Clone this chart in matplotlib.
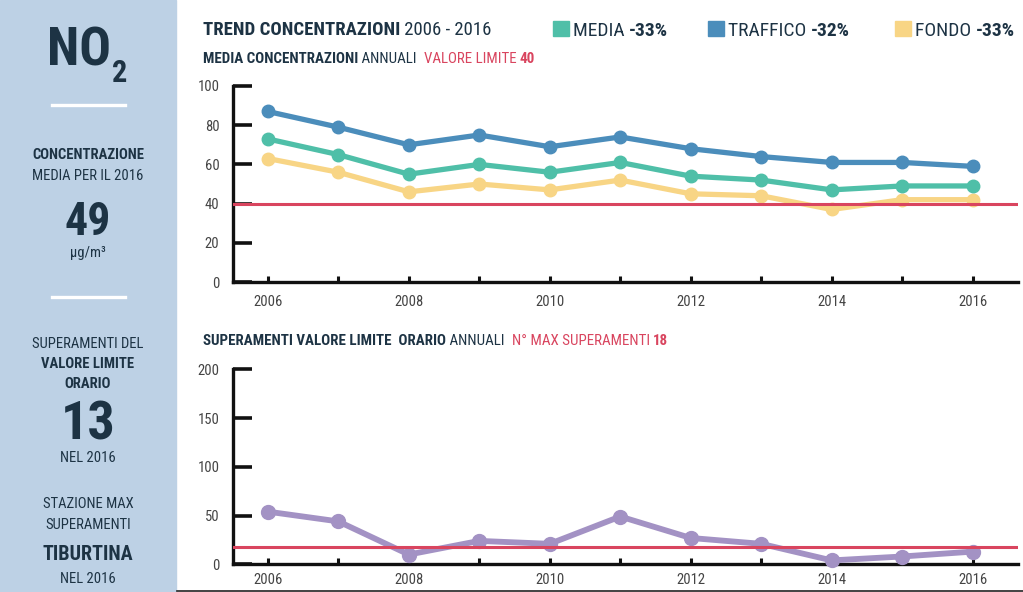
import matplotlib
matplotlib.use("Agg")
import matplotlib.pyplot as plt
from matplotlib import font_manager
from matplotlib.patches import Rectangle
from matplotlib.lines import Line2D

# data
years = list(range(2006, 2017))
media = [73, 65, 55, 60, 56, 61, 54, 52, 47, 49, 49]
traffico = [87, 79, 70, 75, 69, 74, 68, 64, 61, 61, 59]
fondo = [63, 56, 46, 50, 47, 52, 45, 44, 37, 42, 42]
superamenti = [54, 44, 10, 24, 21, 49, 27, 21, 4, 8, 13]
valore_limite = 40
max_superamenti = 18
legend_labels = ["MEDIA", "TRAFFICO", "FONDO"]
legend_changes = ["-33%", "-32%", "-33%"]

W, H = 1023, 592
PANEL = "#bdd1e5"
DARK = "#1d3344"
RED = "#d9455f"
C_MEDIA = "#4fbfa8"
C_TRAFFICO = "#4b8dbb"
C_FONDO = "#f8d585"
C_SUPER = "#a392c4"


def pick_font(names):
    for n in names:
        try:
            font_manager.findfont(n, fallback_to_default=False)
            return n
        except ValueError:
            continue
    return "DejaVu Sans"


FONT = pick_font(["Liberation Sans Narrow", "Roboto Condensed", "Roboto"])
plt.rcParams["font.family"] = [FONT, "DejaVu Sans"]

fig = plt.figure(figsize=(W / 100, H / 100), dpi=100)
renderer = fig.canvas.get_renderer()


def px(x, y):
    return x / W, 1 - y / H


def text_run(x, y, parts, size):
    """Draw text pieces one after another on a common baseline (pixel coords)."""
    for s, weight, color in parts:
        t = fig.text(*px(x, y), s, fontsize=size, fontweight=weight,
                     color=color, ha="left", va="baseline")
        x = t.get_window_extent(renderer).x1
    return x


# left panel
fig.add_artist(Rectangle((0, 0), 176 / W, 1, transform=fig.transFigure,
                         color=PANEL, zorder=0))
for ysep in (105, 297):
    fig.add_artist(Line2D([52 / W, 125 / W], [1 - ysep / H] * 2,
                          color="white", lw=2.4))
fig.add_artist(Line2D([177 / W, 1], [1 - 590.5 / H] * 2, color="#222", lw=1.2))

fig.text(*px(111, 66), "NO", fontsize=38, fontweight="bold", color=DARK,
         ha="right", va="baseline")
fig.text(*px(112, 82), "2", fontsize=22, fontweight="bold", color=DARK,
         ha="left", va="baseline")

cx = 88
panel_texts = [
    (159, "CONCENTRAZIONE", "bold", 10.5),
    (180, "MEDIA PER IL 2016", "normal", 10.5),
    (235, "49", "bold", 33),
    (257, "µg/m³", "normal", 10.5),
    (348, "SUPERAMENTI DEL", "normal", 10.5),
    (368, "VALORE LIMITE", "bold", 10.5),
    (388, "ORARIO", "bold", 10.5),
    (440, "13", "bold", 39),
    (462, "NEL 2016", "normal", 10.5),
    (508, "STAZIONE MAX", "normal", 10.5),
    (529, "SUPERAMENTI", "normal", 10.5),
    (560, "TIBURTINA", "bold", 14.5),
    (583, "NEL 2016", "normal", 10.5),
]
for y, s, weight, size in panel_texts:
    fig.text(*px(cx, y), s, fontsize=size, fontweight=weight, color=DARK,
             ha="center", va="baseline")

# headers
text_run(203, 35, [("TREND CONCENTRAZIONI", "bold", DARK),
                   (" 2006 - 2016", "normal", DARK)], 13.5)
text_run(203, 63, [("MEDIA CONCENTRAZIONI", "bold", DARK),
                   (" ANNUALI  ", "normal", DARK),
                   ("VALORE LIMITE ", "normal", RED),
                   (str(valore_limite), "bold", RED)], 10.8)
text_run(203, 345, [("SUPERAMENTI VALORE LIMITE  ORARIO", "bold", DARK),
                    (" ANNUALI  ", "normal", DARK),
                    ("N° MAX SUPERAMENTI ", "normal", RED),
                    (str(max_superamenti), "bold", RED)], 10.8)

# legend
for x0, label, change, color in zip((553, 708, 895), legend_labels,
                                    legend_changes,
                                    (C_MEDIA, C_TRAFFICO, C_FONDO)):
    fig.add_artist(Rectangle(px(x0, 36), 16 / W, 15 / H,
                             transform=fig.transFigure, color=color))
    text_run(x0 + 20, 36, [(label + " ", "normal", DARK),
                           (change, "bold", DARK)], 14)


def style_axis(ax, ymax, ystep):
    for side in ("top", "right"):
        ax.spines[side].set_visible(False)
    for side in ("left", "bottom"):
        ax.spines[side].set_linewidth(2.4)
        ax.spines[side].set_color("#111")
    ax.set_xlim(2005.51, 2016.64)
    ax.set_ylim(0, ymax)
    ax.set_yticks(range(0, ymax + 1, ystep))
    ax.set_xticks(years)
    ax.set_xticklabels([str(y) if y % 2 == 0 else "" for y in years])
    ax.tick_params(axis="y", direction="in", length=14, width=2.6,
                   color="#111", pad=10, labelsize=10.5, labelcolor="#444")
    ax.tick_params(axis="x", direction="in", length=4, width=2.2,
                   color="#111", pad=9, labelsize=10.5, labelcolor="#444")
    ax.patch.set_alpha(0)


ax1 = fig.add_axes([233.3 / W, (H - 282) / H, (1017.7 - 233.3) / W, 196 / H])
style_axis(ax1, 100, 20)
for vals, color in ((fondo, C_FONDO), (media, C_MEDIA), (traffico, C_TRAFFICO)):
    ax1.plot(years, vals, color=color, lw=3.8, marker="o", ms=9,
             clip_on=False, zorder=3)
ax1.axhline(valore_limite, color=RED, lw=2.2, zorder=4)

ax2 = fig.add_axes([233.3 / W, (H - 564.3) / H, (1017.7 - 233.3) / W, 195 / H])
style_axis(ax2, 200, 50)
ax2.tick_params(axis="x", pad=6)
ax2.plot(years, superamenti, color=C_SUPER, lw=4.2, marker="o", ms=10,
         clip_on=False, zorder=3)
ax2.axhline(max_superamenti, color=RED, lw=2.2, zorder=4)

fig.savefig("out.png", dpi=100)
